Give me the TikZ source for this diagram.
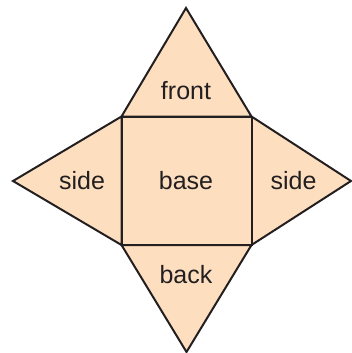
\documentclass[tikz,border=0pt]{standalone}
\usepackage{fontspec}
\setmainfont{Liberation Sans}
\definecolor{peach}{RGB}{253,223,192}
\definecolor{ink}{RGB}{35,31,32}
\tikzset{
  face/.style={fill=peach, draw=ink, line width=2pt, line join=miter},
  lbl/.style={anchor=base, text=ink, font=\fontsize{25}{25}\selectfont, inner sep=0pt}
}
\begin{document}
\begin{tikzpicture}[x=1pt,y=-1pt]
\useasboundingbox (0,0) rectangle (351,353);
\coordinate (tl) at (121.5,116.5);
\coordinate (tr) at (251.5,116.5);
\coordinate (bl) at (121.5,245);
\coordinate (br) at (251.5,245);
\coordinate (top) at (186,8);
\coordinate (left) at (13,181);
\coordinate (right) at (351,181);
\coordinate (bot) at (186.5,352);
\draw[face] (tl) -- (top) -- (tr) -- cycle;
\draw[face] (tl) -- (left) -- (bl) -- cycle;
\draw[face] (tr) -- (right) -- (br) -- cycle;
\draw[face] (bl) -- (bot) -- (br) -- cycle;
\draw[face] (tl) rectangle (br);
\node[lbl] (front) at (186,99) {front};
\node[lbl] (sideL) at (82,189) {side};
\node[lbl] (base) at (186,189) {base};
\node[lbl] (sideR) at (293.5,189) {side};
\node[lbl] (back) at (186,283) {back};
\end{tikzpicture}
\end{document}
